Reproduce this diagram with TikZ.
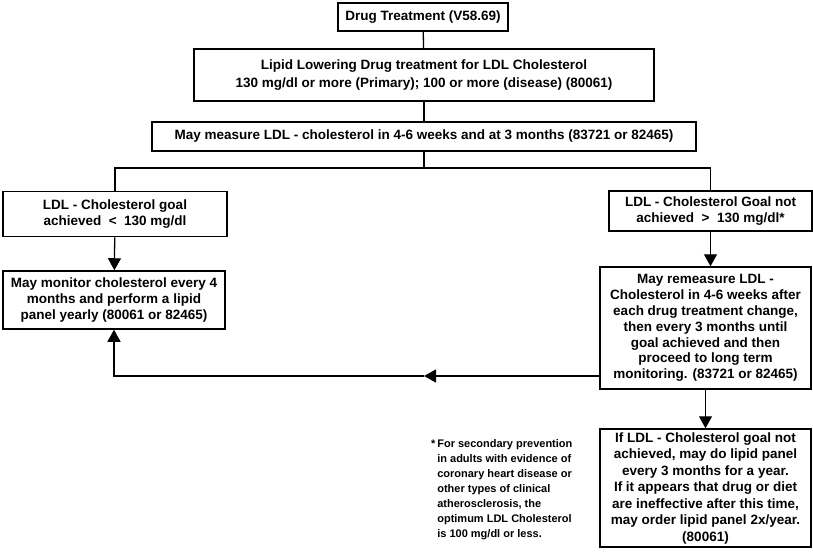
\documentclass[tikz,border=0pt]{standalone}
\usepackage{fontspec}
\setmainfont{Liberation Sans}
\usetikzlibrary{arrows.meta}
\tikzset{
  box/.style={draw, line width=1.5pt, align=center, inner sep=0pt,
    font=\bfseries\fontsize{13.5}{15.8}\selectfont},
  conn/.style={line width=1.3pt},
  arr/.style={line width=1.3pt, -{Triangle[length=12pt,width=13pt]}},
  note/.style={align=left, inner sep=0pt, anchor=north west,
    font=\bfseries\fontsize{11}{15}\selectfont}
}
\begin{document}
\begin{tikzpicture}[x=1pt,y=-1pt]
\useasboundingbox (0,0) rectangle (813,552);
\fill[white] (0,0) rectangle (813,552);

\node[box, minimum width=170pt, minimum height=28pt] (b1) at (423,17) {Drug Treatment (V58.69)};
\node[box, minimum width=460pt, minimum height=52pt, font=\bfseries\fontsize{13.5}{18}\selectfont] (b2) at (424,75)
  {Lipid Lowering Drug treatment for LDL Cholesterol\\130 mg/dl or more (Primary); 100 or more (disease) (80061)};
\node[box, minimum width=544pt, minimum height=29pt] (b3) at (424,136.5)
  {May measure LDL - cholesterol in 4-6 weeks and at 3 months (83721 or 82465)};

\node[box, minimum width=224pt, minimum height=45pt] (b4) at (115,214)
  {LDL - Cholesterol goal\\achieved \ {<} \ 130 mg/dl};
\node[box, minimum width=222pt, minimum height=58pt] (b6) at (114,300)
  {May monitor cholesterol every 4\\months and perform a lipid\\panel yearly (80061 or 82465)};

\node[box, minimum width=203pt, minimum height=40pt] (b5) at (710.5,211)
  {LDL - Cholesterol Goal not\\achieved \ {>} \ 130 mg/dl*};
\node[box, minimum width=211pt, minimum height=122pt] (b7) at (705.5,328)
  {May remeasure LDL -\\Cholesterol in 4-6 weeks after\\each drug treatment change,\\then every 3 months until\\goal achieved and then\\proceed to long term\\monitoring. (83721 or 82465)};
\node[box, minimum width=211pt, minimum height=118pt, font=\bfseries\fontsize{13.5}{16.5}\selectfont] (b8) at (705.5,488)
  {If LDL - Cholesterol goal not\\achieved, may do lipid panel\\every 3 months for a year.\\If it appears that drug or diet\\are ineffective after this time,\\may order lipid panel 2x/year.\\(80061)};

\node[note] (fn) at (431,439)
  {*\,For secondary prevention\\
   \phantom{*\,}in adults with evidence of\\
   \phantom{*\,}coronary heart disease or\\
   \phantom{*\,}other types of clinical\\
   \phantom{*\,}atherosclerosis, the\\
   \phantom{*\,}optimum LDL Cholesterol\\
   \phantom{*\,}is 100 mg/dl or less.};

\coordinate (j) at (424,168);
\coordinate (r) at (600,376);
\coordinate (m) at (424,376);

\draw[conn] (b1) -- (b2);
\draw[conn] (b2) -- (b3);
\draw[conn] (b3) -- (j);
\draw[conn] (b4.north) |- (j) -| (b5.north);
\draw[arr] (b4) -- (b6);
\draw[arr] (b5.south) -- (b5.south |- b7.north);
\draw[arr] (b7) -- (b8);
\draw[arr] (r) -- (m);
\draw[arr] (m) -| (b6.south);
\end{tikzpicture}
\end{document}
